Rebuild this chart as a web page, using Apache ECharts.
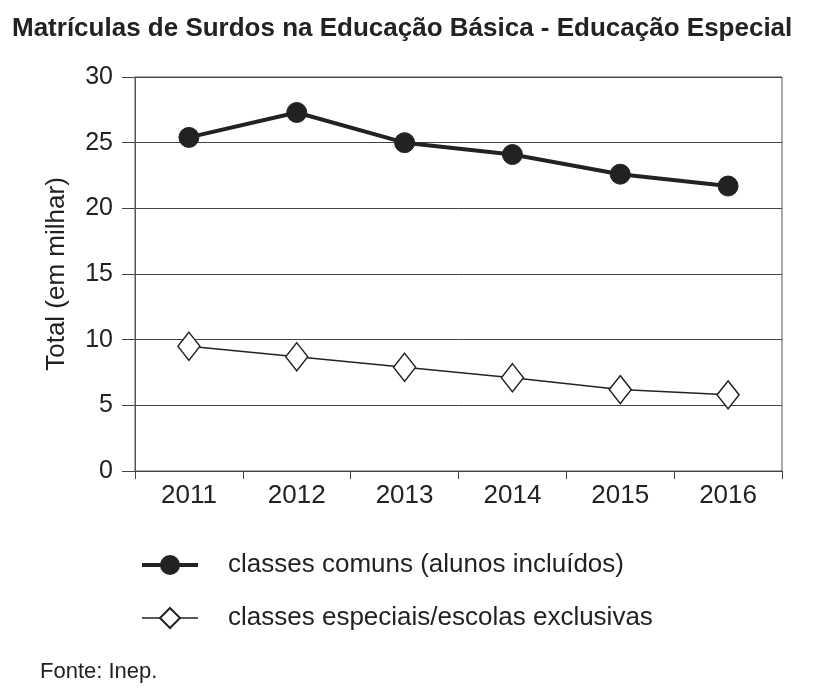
<!DOCTYPE html>
<html>
<head>
<meta charset="utf-8">
<script src="https://cdn.jsdelivr.net/npm/echarts@6/dist/echarts.min.js"></script>
<style>
    html, body { margin: 0; padding: 0; background: #fff; }
    #chart { width: 820px; height: 696px; }
</style>
</head>
<body>
<div id="chart"></div>
<script>
// data
const years = ['2011', '2012', '2013', '2014', '2015', '2016']
const comuns = [25.4, 27.3, 25.0, 24.1, 22.6, 21.7]
const especiais = [9.5, 8.7, 7.9, 7.1, 6.2, 5.8]
const yTicks = [0, 5, 10, 15, 20, 25, 30]
const nameComuns = 'classes comuns (alunos incluídos)'
const nameEspeciais = 'classes especiais/escolas exclusivas'

const ink = '#222'
const font = 'Liberation Sans, Arial, sans-serif'

let myChart = echarts.init(document.getElementById('chart'))
let option

option = {
    backgroundColor: '#fff',
    textStyle: { fontFamily: font, color: ink },
    title: [
        {
            text: 'Matrículas de Surdos na Educação Básica - Educação Especial',
            left: 7,
            top: 11,
            textStyle: { fontFamily: font, fontSize: 26, fontWeight: 'bold', color: ink },
        },
        {
            text: 'Fonte: Inep.',
            left: 35,
            top: 656,
            textStyle: { fontFamily: font, fontSize: 22, fontWeight: 'normal', color: ink },
        },
    ],
    grid: {
        left: 135,
        right: 38,
        top: 77,
        bottom: 225,
        show: true,
        borderColor: '#555',
        borderWidth: 1,
    },
    legend: {
        orient: 'vertical',
        left: 140,
        top: 552,
        padding: 0,
        itemWidth: 56,
        itemHeight: 25,
        itemGap: 27,
        textStyle: { fontFamily: font, fontSize: 26, color: ink, padding: [0, 0, 0, 25] },
        data: [
            { name: nameComuns, lineStyle: { width: 4 } },
            { name: nameEspeciais, lineStyle: { width: 1.5 } },
        ],
    },
    xAxis: {
        type: 'category',
        data: years,
        boundaryGap: true,
        axisLine: { lineStyle: { color: '#444', width: 1 } },
        axisTick: { show: true, length: 8, inside: false, lineStyle: { color: '#444' } },
        axisLabel: { fontFamily: font, fontSize: 26, color: ink, margin: 12 },
        splitLine: { show: false },
    },
    yAxis: {
        type: 'value',
        min: yTicks[0],
        max: yTicks[yTicks.length - 1],
        interval: yTicks[1] - yTicks[0],
        name: 'Total (em milhar)',
        nameLocation: 'middle',
        nameGap: 65,
        nameTextStyle: { fontFamily: font, fontSize: 26, color: ink },
        axisLine: { show: true, lineStyle: { color: '#555', width: 1 } },
        axisTick: { show: true, length: 13, lineStyle: { color: '#444' } },
        axisLabel: { fontFamily: font, fontSize: 25, color: ink, margin: 22 },
        splitLine: { show: true, lineStyle: { color: '#444', width: 1 } },
    },
    series: [
        {
            name: nameComuns,
            type: 'line',
            data: comuns,
            symbol: 'circle',
            symbolSize: 20,
            itemStyle: { color: ink, borderColor: ink },
            lineStyle: { color: ink, width: 4 },
            z: 3,
        },
        {
            name: nameEspeciais,
            type: 'line',
            data: especiais,
            symbol: 'diamond',
            symbolSize: [22, 28],
            itemStyle: { color: '#fff', borderColor: ink, borderWidth: 1.5 },
            lineStyle: { color: ink, width: 1.5 },
            z: 3,
        },
    ],
}

myChart.setOption(option)
</script>
</body>
</html>
